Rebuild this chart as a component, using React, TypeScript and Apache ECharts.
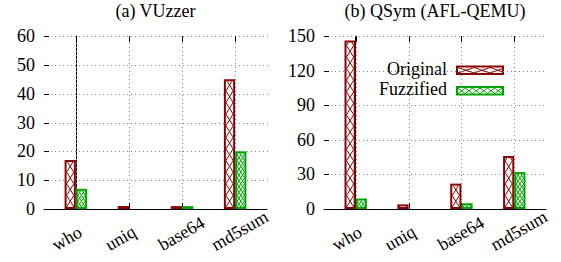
import React, { useEffect, useRef } from 'react';
import * as echarts from 'echarts';

const categories = ['who', 'uniq', 'base64', 'md5sum'];
const seriesNames = ['Original', 'Fuzzified'];
const panelTitles = ['(a) VUzzer', '(b) QSym (AFL-QEMU)'];
const vuzzerOriginal = [17, 1, 1, 45];
const vuzzerFuzzified = [7, 0, 1, 20];
const qsymOriginal = [146, 4, 22, 46];
const qsymFuzzified = [9, 0, 5, 32];
const vuzzerYTicks = [0, 10, 20, 30, 40, 50, 60];
const qsymYTicks = [0, 30, 60, 90, 120, 150];

const RED = '#8b0000';
const GREEN = '#00a400';
const GRID_DOT = '#8a8a8a';
const FONT = 'Liberation Serif';
const FS = 18;
const X_MIN = -0.6;
const X_MAX = 3.6;
const BAR_W = 0.212;
const LABEL_SHIFT = 0.42;

function hatch(x0: number, yTop: number, x1: number, yBot: number, spacing: number, slope: number, color: string) {
  const out: any[] = [];
  const w = x1 - x0;
  const h = yBot - yTop;
  if (w <= 0.5 || h <= 0.5 || spacing <= 0) return out;
  const step = spacing * slope;
  const kMax = Math.ceil((h + slope * w) / step) + 2;
  const seg = (ua: number, va: number, ub: number, vb: number) => ({
    type: 'line',
    shape: { x1: x0 + ua, y1: yBot - va, x2: x0 + ub, y2: yBot - vb },
    style: { stroke: color, lineWidth: 1 },
  });
  for (let k = -kMax; k <= kMax; k++) {
    const c = k * step;
    let lo = Math.max(0, -c / slope);
    let hi = Math.min(w, (h - c) / slope);
    if (hi - lo > 0.05) out.push(seg(lo, slope * lo + c, hi, slope * hi + c));
    lo = Math.max(0, (c - h) / slope);
    hi = Math.min(w, c / slope);
    if (hi - lo > 0.05) out.push(seg(lo, -slope * lo + c, hi, -slope * hi + c));
  }
  return out;
}

function hatchedBox(x: number, y: number, w: number, h: number, color: string, spacingDiv: number, slope: number) {
  const lw = 2;
  const els: any[] = [{ type: 'rect', shape: { x, y, width: w, height: h }, style: { fill: color } }];
  if (w > 2 * lw && h > 2 * lw) {
    els.push({ type: 'rect', shape: { x: x + lw, y: y + lw, width: w - 2 * lw, height: h - 2 * lw }, style: { fill: '#ffffff' } });
    hatch(x + lw, y + lw, x + w - lw, y + h - lw, (w - 2 * lw) / spacingDiv, slope, color).forEach((s) => els.push(s));
  }
  return els;
}

function barSeries(values: number[], side: number, color: string, div: number, slope: number) {
  return {
    type: 'custom',
    data: values.map((v, i) => [i, v]),
    encode: { x: 0, y: 1 },
    renderItem: (params: any, api: any) => {
      const i = api.value(0);
      const v = api.value(1);
      if (!(v > 0)) return { type: 'group', children: [] };
      const top = api.coord([i, v]);
      const base = api.coord([i, 0]);
      const bw = api.size([BAR_W, 0])[0];
      const xa = side < 0 ? base[0] - bw : base[0];
      return { type: 'group', children: hatchedBox(xa, top[1], bw, base[1] - top[1], color, div, slope) };
    },
  };
}

function dotsH(x0: number, x1: number, y: number) {
  const out: any[] = [];
  for (let x = x0; x <= x1; x += 4) out.push({ type: 'rect', shape: { x, y, width: 1, height: 1 }, style: { fill: GRID_DOT } });
  return out;
}

function dotsV(x: number, y0: number, y1: number) {
  const out: any[] = [];
  for (let y = y0; y <= y1; y += 4) out.push({ type: 'rect', shape: { x, y, width: 1, height: 1 }, style: { fill: GRID_DOT } });
  return out;
}

function xGridSeries() {
  return {
    type: 'custom',
    data: categories.map((_, i) => [i, 0]),
    encode: { x: 0, y: 1 },
    renderItem: (params: any, api: any) => {
      const cs = params.coordSys;
      const x = Math.round(api.coord([api.value(0), 0])[0]);
      const yT = Math.round(cs.y);
      const yB = Math.round(cs.y + cs.height);
      return {
        type: 'group',
        children: [
          ...dotsV(x, yT + 7, yB - 7),
          { type: 'rect', shape: { x, y: yT, width: 1, height: 6 }, style: { fill: '#000' } },
          { type: 'rect', shape: { x, y: yB - 6, width: 1, height: 6 }, style: { fill: '#000' } },
        ],
      };
    },
  };
}

function yGridSeries(ticks: number[]) {
  return {
    type: 'custom',
    data: ticks.map((t) => [X_MIN, t]),
    encode: { x: 0, y: 1 },
    renderItem: (params: any, api: any) => {
      const cs = params.coordSys;
      const t = api.value(1);
      const y = Math.round(api.coord([X_MIN, t])[1]);
      const x0 = Math.round(cs.x);
      const x1 = Math.round(cs.x + cs.width);
      const children: any[] = [{ type: 'rect', shape: { x: x0, y, width: 5, height: 1 }, style: { fill: '#000' } }];
      if (t > ticks[0]) dotsH(x0 + 7, x1, y).forEach((d) => children.push(d));
      return { type: 'group', children };
    },
  };
}

function legendGraphic(textRight: number, swatchLeft: number) {
  const items = [
    { name: seriesNames[0], color: RED, y: 65.5, div: 44 / 16, slope: 0.34 },
    { name: seriesNames[1], color: GREEN, y: 86, div: 6, slope: 0.75 },
  ];
  const els: any[] = [];
  items.forEach((it) => {
    const h = 9.5;
    els.push({
      type: 'text',
      x: textRight,
      y: it.y + h / 2 - 1.5,
      style: { text: it.name, align: 'right', verticalAlign: 'middle', fontFamily: FONT, fontSize: FS, fill: '#000' },
    });
    hatchedBox(swatchLeft, it.y, 48, h, it.color, it.div, it.slope).forEach((e) => els.push(e));
  });
  return els;
}

function makeOption(title: string, orig: number[], fuzz: number[], yTicks: number[], gridWidth: number, withLegend: boolean) {
  const graphic: any[] = [
    { type: 'text', x: 44 + gridWidth / 2, y: 10.5, style: { text: title, align: 'center', verticalAlign: 'middle', fontFamily: FONT, fontSize: FS, fill: '#000' } },
  ];
  if (withLegend) legendGraphic(167, 176).forEach((e) => graphic.push(e));
  return {
    animation: false,
    backgroundColor: '#ffffff',
    grid: { left: 44, top: 36, width: gridWidth, height: 173 },
    xAxis: {
      type: 'value',
      min: X_MIN,
      max: X_MAX,
      axisLine: { show: true, onZero: false, lineStyle: { color: '#000', width: 1 } },
      axisTick: { show: false },
      splitLine: { show: false },
      axisLabel: {
        customValues: categories.map((_, i) => i - LABEL_SHIFT),
        formatter: (v: number) => categories[Math.round(v + LABEL_SHIFT)] ?? '',
        rotate: 30,
        align: 'left',
        margin: 37,
        fontFamily: FONT,
        fontSize: FS,
        color: '#000',
      },
    },
    yAxis: {
      type: 'value',
      min: yTicks[0],
      max: yTicks[yTicks.length - 1],
      interval: yTicks[1] - yTicks[0],
      axisLine: { show: true, lineStyle: { color: '#000', width: 1 } },
      axisTick: { show: false },
      splitLine: { show: false },
      axisLabel: { margin: 9, fontFamily: FONT, fontSize: FS, color: '#000' },
    },
    series: [
      yGridSeries(yTicks),
      xGridSeries(),
      barSeries(orig, -1, RED, 1, 1.6),
      barSeries(fuzz, 1, GREEN, 2, 1.6),
    ],
    graphic,
  };
}

function Panel({ left, width, option }: { left: number; width: number; option: any }) {
  const ref = useRef<HTMLDivElement>(null);
  useEffect(() => {
    if (!ref.current) return;
    const chart = echarts.init(ref.current, undefined, { renderer: 'svg' });
    chart.setOption(option);
    return () => chart.dispose();
  }, []);
  return <div ref={ref} style={{ position: 'fixed', left, top: 0, width, height: 262 }} />;
}

export default function App() {
  return (
    <div>
      <Panel left={0} width={280} option={makeOption(panelTitles[0], vuzzerOriginal, vuzzerFuzzified, vuzzerYTicks, 223, false)} />
      <Panel left={280} width={281} option={makeOption(panelTitles[1], qsymOriginal, qsymFuzzified, qsymYTicks, 222, true)} />
    </div>
  );
}
